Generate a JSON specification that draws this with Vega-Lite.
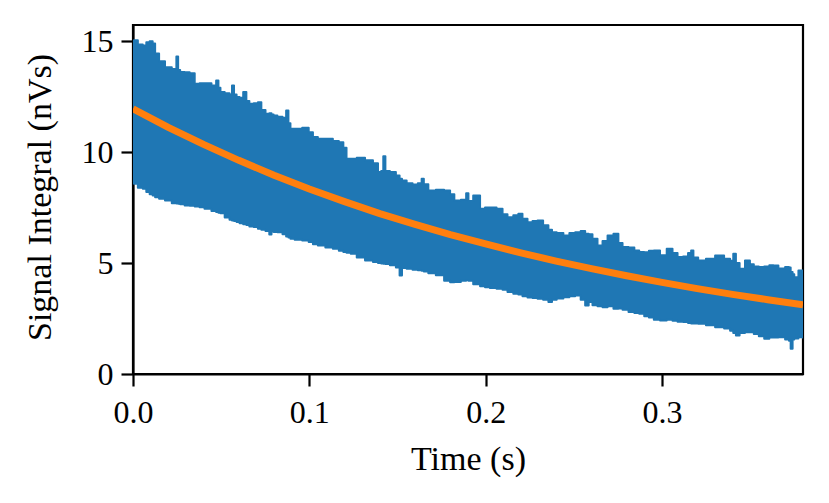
{
  "$schema": "https://vega.github.io/schema/vega-lite/v6.json",
  "width": 670,
  "height": 349,
  "autosize": {"type": "none"},
  "padding": {"left": 133, "top": 25, "right": 26, "bottom": 129},
  "background": "white",
  "datasets": {
    "signal": [
      {"t": 0.0, "hi": 15.0, "lo": 8.6},
      {"t": 0.001, "hi": 15.04, "lo": 8.58},
      {"t": 0.0045, "hi": 14.85, "lo": 8.4},
      {"t": 0.0066, "hi": 14.81, "lo": 8.35},
      {"t": 0.0085, "hi": 14.95, "lo": 8.2},
      {"t": 0.0104, "hi": 15.0, "lo": 8.1},
      {"t": 0.0119, "hi": 14.9, "lo": 8.05},
      {"t": 0.0132, "hi": 14.44, "lo": 7.97},
      {"t": 0.0164, "hi": 14.1, "lo": 7.9},
      {"t": 0.0199, "hi": 13.83, "lo": 7.82},
      {"t": 0.0241, "hi": 13.75, "lo": 7.7},
      {"t": 0.0251, "hi": 14.31, "lo": 7.68},
      {"t": 0.0261, "hi": 13.7, "lo": 7.67},
      {"t": 0.0274, "hi": 13.61, "lo": 7.65},
      {"t": 0.0312, "hi": 13.6, "lo": 7.6},
      {"t": 0.0331, "hi": 13.56, "lo": 7.58},
      {"t": 0.0369, "hi": 13.08, "lo": 7.55},
      {"t": 0.0386, "hi": 13.1, "lo": 7.52},
      {"t": 0.0425, "hi": 13.11, "lo": 7.45},
      {"t": 0.0465, "hi": 13.0, "lo": 7.35},
      {"t": 0.0478, "hi": 13.23, "lo": 7.3},
      {"t": 0.0491, "hi": 12.9, "lo": 7.27},
      {"t": 0.0501, "hi": 12.71, "lo": 7.25},
      {"t": 0.0539, "hi": 12.65, "lo": 7.05},
      {"t": 0.0556, "hi": 12.6, "lo": 6.95},
      {"t": 0.0567, "hi": 13.0, "lo": 6.92},
      {"t": 0.0579, "hi": 12.6, "lo": 6.9},
      {"t": 0.0596, "hi": 12.48, "lo": 6.85},
      {"t": 0.0613, "hi": 12.45, "lo": 6.8},
      {"t": 0.0637, "hi": 12.71, "lo": 6.75},
      {"t": 0.0649, "hi": 12.3, "lo": 6.72},
      {"t": 0.0671, "hi": 12.18, "lo": 6.65},
      {"t": 0.0698, "hi": 12.2, "lo": 6.62},
      {"t": 0.0719, "hi": 12.25, "lo": 6.55},
      {"t": 0.0737, "hi": 11.9, "lo": 6.5},
      {"t": 0.0766, "hi": 11.73, "lo": 6.45},
      {"t": 0.078, "hi": 11.75, "lo": 6.29},
      {"t": 0.0791, "hi": 11.7, "lo": 6.42},
      {"t": 0.0804, "hi": 11.65, "lo": 6.4},
      {"t": 0.0834, "hi": 11.6, "lo": 6.39},
      {"t": 0.0862, "hi": 11.55, "lo": 6.3},
      {"t": 0.0875, "hi": 11.88, "lo": 6.2},
      {"t": 0.0888, "hi": 11.3, "lo": 6.15},
      {"t": 0.0898, "hi": 11.05, "lo": 6.1},
      {"t": 0.0936, "hi": 11.05, "lo": 6.05},
      {"t": 0.0983, "hi": 11.1, "lo": 6.02},
      {"t": 0.101, "hi": 10.9, "lo": 5.95},
      {"t": 0.1031, "hi": 10.68, "lo": 5.85},
      {"t": 0.1066, "hi": 10.6, "lo": 5.79},
      {"t": 0.1116, "hi": 10.6, "lo": 5.7},
      {"t": 0.1151, "hi": 10.5, "lo": 5.64},
      {"t": 0.1184, "hi": 10.45, "lo": 5.55},
      {"t": 0.1202, "hi": 10.2, "lo": 5.5},
      {"t": 0.122, "hi": 9.7, "lo": 5.47},
      {"t": 0.125, "hi": 9.7, "lo": 5.42},
      {"t": 0.1288, "hi": 9.75, "lo": 5.25},
      {"t": 0.1344, "hi": 9.63, "lo": 5.12},
      {"t": 0.1378, "hi": 9.5, "lo": 5.05},
      {"t": 0.1401, "hi": 9.1, "lo": 5.0},
      {"t": 0.1414, "hi": 9.15, "lo": 4.98},
      {"t": 0.1425, "hi": 9.81, "lo": 4.97},
      {"t": 0.1438, "hi": 9.15, "lo": 4.96},
      {"t": 0.1476, "hi": 9.1, "lo": 4.9},
      {"t": 0.1506, "hi": 8.95, "lo": 4.8},
      {"t": 0.1518, "hi": 8.8, "lo": 4.44},
      {"t": 0.1533, "hi": 8.72, "lo": 4.78},
      {"t": 0.1571, "hi": 8.6, "lo": 4.74},
      {"t": 0.16, "hi": 8.54, "lo": 4.7},
      {"t": 0.1631, "hi": 8.6, "lo": 4.68},
      {"t": 0.1643, "hi": 8.8, "lo": 4.65},
      {"t": 0.1656, "hi": 8.55, "lo": 4.62},
      {"t": 0.1694, "hi": 8.27, "lo": 4.54},
      {"t": 0.1741, "hi": 8.3, "lo": 4.45},
      {"t": 0.1788, "hi": 8.27, "lo": 4.2},
      {"t": 0.1809, "hi": 8.1, "lo": 4.14},
      {"t": 0.1836, "hi": 7.82, "lo": 4.15},
      {"t": 0.1883, "hi": 7.85, "lo": 4.2},
      {"t": 0.1896, "hi": 8.15, "lo": 4.22},
      {"t": 0.1909, "hi": 7.8, "lo": 4.2},
      {"t": 0.195, "hi": 8.05, "lo": 4.05},
      {"t": 0.1987, "hi": 7.45, "lo": 3.95},
      {"t": 0.2006, "hi": 7.5, "lo": 3.91},
      {"t": 0.2042, "hi": 7.5, "lo": 3.88},
      {"t": 0.2082, "hi": 7.45, "lo": 3.84},
      {"t": 0.211, "hi": 7.2, "lo": 3.8},
      {"t": 0.2138, "hi": 7.07, "lo": 3.7},
      {"t": 0.2176, "hi": 7.15, "lo": 3.62},
      {"t": 0.2195, "hi": 7.22, "lo": 3.58},
      {"t": 0.2223, "hi": 7.0, "lo": 3.5},
      {"t": 0.2252, "hi": 6.84, "lo": 3.45},
      {"t": 0.228, "hi": 6.9, "lo": 3.42},
      {"t": 0.2309, "hi": 6.92, "lo": 3.39},
      {"t": 0.2343, "hi": 6.7, "lo": 3.35},
      {"t": 0.2369, "hi": 6.5, "lo": 3.24},
      {"t": 0.2384, "hi": 6.39, "lo": 3.35},
      {"t": 0.2422, "hi": 6.35, "lo": 3.4},
      {"t": 0.246, "hi": 6.24, "lo": 3.46},
      {"t": 0.249, "hi": 6.35, "lo": 3.5},
      {"t": 0.2526, "hi": 6.39, "lo": 3.54},
      {"t": 0.2552, "hi": 6.45, "lo": 3.35},
      {"t": 0.2577, "hi": 6.32, "lo": 3.09},
      {"t": 0.2592, "hi": 6.3, "lo": 3.25},
      {"t": 0.262, "hi": 6.1, "lo": 3.1},
      {"t": 0.2649, "hi": 5.79, "lo": 3.05},
      {"t": 0.2677, "hi": 6.0, "lo": 3.01},
      {"t": 0.2706, "hi": 6.24, "lo": 3.05},
      {"t": 0.2744, "hi": 6.32, "lo": 2.94},
      {"t": 0.2762, "hi": 5.9, "lo": 2.95},
      {"t": 0.2791, "hi": 5.72, "lo": 2.9},
      {"t": 0.283, "hi": 5.7, "lo": 2.8},
      {"t": 0.2857, "hi": 5.57, "lo": 2.75},
      {"t": 0.2885, "hi": 5.5, "lo": 2.71},
      {"t": 0.2914, "hi": 5.49, "lo": 2.6},
      {"t": 0.2938, "hi": 5.55, "lo": 2.55},
      {"t": 0.297, "hi": 5.57, "lo": 2.45},
      {"t": 0.3008, "hi": 5.35, "lo": 2.41},
      {"t": 0.3046, "hi": 5.64, "lo": 2.45},
      {"t": 0.3074, "hi": 5.45, "lo": 2.4},
      {"t": 0.3103, "hi": 5.27, "lo": 2.36},
      {"t": 0.3137, "hi": 5.3, "lo": 2.34},
      {"t": 0.3159, "hi": 5.45, "lo": 2.3},
      {"t": 0.3172, "hi": 5.57, "lo": 2.28},
      {"t": 0.3185, "hi": 5.25, "lo": 2.28},
      {"t": 0.3226, "hi": 5.12, "lo": 2.26},
      {"t": 0.3273, "hi": 5.2, "lo": 2.2},
      {"t": 0.333, "hi": 5.34, "lo": 2.11},
      {"t": 0.3375, "hi": 5.2, "lo": 2.05},
      {"t": 0.3398, "hi": 5.1, "lo": 1.95},
      {"t": 0.3411, "hi": 5.42, "lo": 1.85},
      {"t": 0.3428, "hi": 5.0, "lo": 1.74},
      {"t": 0.3453, "hi": 4.74, "lo": 1.85},
      {"t": 0.3489, "hi": 5.12, "lo": 1.88},
      {"t": 0.3509, "hi": 4.95, "lo": 1.88},
      {"t": 0.3533, "hi": 4.85, "lo": 1.8},
      {"t": 0.3566, "hi": 4.82, "lo": 1.7},
      {"t": 0.3594, "hi": 4.85, "lo": 1.59},
      {"t": 0.3624, "hi": 4.9, "lo": 1.65},
      {"t": 0.3641, "hi": 4.89, "lo": 1.65},
      {"t": 0.368, "hi": 4.75, "lo": 1.66},
      {"t": 0.3717, "hi": 4.82, "lo": 1.55},
      {"t": 0.3724, "hi": 4.8, "lo": 1.5},
      {"t": 0.3736, "hi": 4.6, "lo": 1.14},
      {"t": 0.3746, "hi": 4.5, "lo": 1.55},
      {"t": 0.3755, "hi": 4.36, "lo": 1.6},
      {"t": 0.3793, "hi": 4.67, "lo": 1.66},
      {"t": 0.38, "hi": 4.6, "lo": 1.65}
    ],
    "fit": [
      {"t": 0.0, "v": 11.95},
      {"t": 0.02, "v": 11.12},
      {"t": 0.04, "v": 10.35},
      {"t": 0.06, "v": 9.63},
      {"t": 0.08, "v": 8.96},
      {"t": 0.1, "v": 8.34},
      {"t": 0.12, "v": 7.77},
      {"t": 0.14, "v": 7.23},
      {"t": 0.16, "v": 6.74},
      {"t": 0.18, "v": 6.28},
      {"t": 0.2, "v": 5.86},
      {"t": 0.22, "v": 5.46},
      {"t": 0.24, "v": 5.09},
      {"t": 0.26, "v": 4.75},
      {"t": 0.28, "v": 4.43},
      {"t": 0.3, "v": 4.13},
      {"t": 0.32, "v": 3.85},
      {"t": 0.34, "v": 3.59},
      {"t": 0.36, "v": 3.35},
      {"t": 0.38, "v": 3.12}
    ]
  },
  "layer": [
    {
      "data": {"name": "signal"},
      "mark": {"type": "area", "interpolate": "step", "color": "#1f77b4", "stroke": "#1f77b4", "strokeWidth": 2, "strokeJoin": "round", "clip": true},
      "encoding": {
        "x": {
          "field": "t",
          "type": "quantitative",
          "scale": {"domain": [0, 0.38], "nice": false, "zero": false},
          "axis": {"values": [0, 0.1, 0.2, 0.3], "format": ".1f", "title": "Time (s)", "labelPadding": 11, "titleY": 95, "titleBaseline": "alphabetic", "titleX": 335}
        },
        "y": {
          "field": "hi",
          "type": "quantitative",
          "scale": {"domain": [0, 15.73], "nice": false},
          "axis": {"values": [0, 5, 10, 15], "format": "d", "title": "Signal Integral (nVs)", "labelPadding": 8, "titleX": -93, "titleY": 172, "titleAngle": 270, "titleBaseline": "middle", "titleAlign": "center"}
        },
        "y2": {"field": "lo"}
      }
    },
    {
      "data": {"name": "fit"},
      "mark": {"type": "line", "color": "#ff7f0e", "strokeWidth": 7, "clip": true},
      "encoding": {
        "x": {"field": "t", "type": "quantitative"},
        "y": {"field": "v", "type": "quantitative"}
      }
    }
  ],
  "config": {
    "font": "Liberation Serif",
    "view": {"stroke": "black", "strokeWidth": 2.2},
    "axis": {
      "zindex": 1,
      "grid": false,
      "domainColor": "black",
      "domainWidth": 2.2,
      "tickColor": "black",
      "tickWidth": 2.2,
      "tickSize": 12,
      "labelFont": "Liberation Serif",
      "labelFontSize": 32,
      "labelColor": "black",
      "titleFont": "Liberation Serif",
      "titleFontSize": 34,
      "titleFontWeight": "normal",
      "titleColor": "black",
      "labelFlush": false,
      "labelOverlap": false
    }
  }
}
